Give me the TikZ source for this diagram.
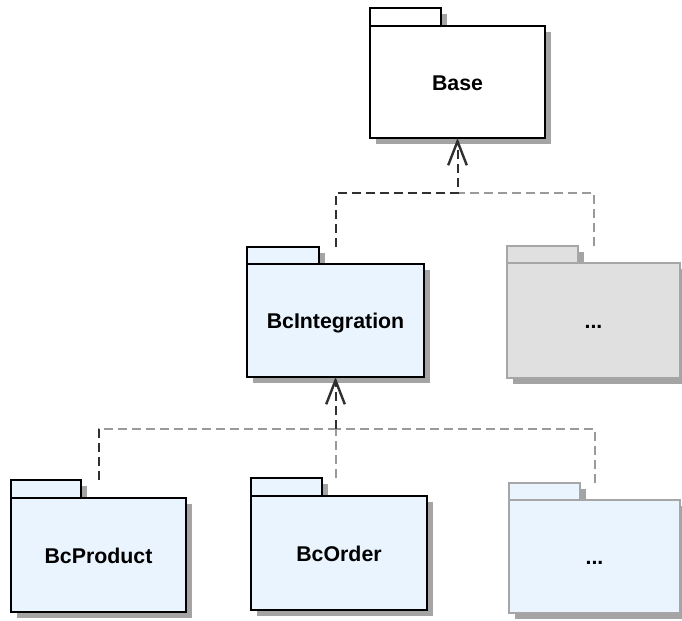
\documentclass[tikz,border=0pt]{standalone}
\usepackage{fontspec}
\setmainfont{Liberation Sans}
\usetikzlibrary{fit,shadows,arrows.meta}

\definecolor{pkgblue}{HTML}{EAF4FF}
\definecolor{pkggrey}{HTML}{E0E0E0}
\definecolor{rimgrey}{HTML}{A6A6A6}
\definecolor{linedark}{HTML}{303030}
\definecolor{linegrey}{HTML}{9A9A9A}
\definecolor{shadowgrey}{HTML}{A4A4A4}

\tikzset{
  pkgshadow/.style={drop shadow={shadow xshift=4.5pt, shadow yshift=-4.5pt,
      fill=shadowgrey, opacity=1}},
  pkgpart/.style={draw=black, line width=2.1pt, fill=pkgblue, inner sep=0pt,
      outer sep=0pt, pkgshadow},
  whitepart/.style={pkgpart, fill=white},
  greypart/.style={pkgpart, draw=rimgrey, fill=pkggrey},
  palepart/.style={pkgpart, draw=rimgrey, fill=pkgblue},
  pkgtext/.style={font=\fontsize{16}{19}\selectfont\bfseries, text=black,
      inner sep=0pt, text height=12pt, text depth=0pt},
  conn/.style={line width=1.5pt, dash pattern=on 6.75pt off 3.75pt, draw=linedark},
  connpale/.style={conn, draw=linegrey},
  genarrow/.style={-{Straight Barb[length=18pt, width=14pt, line width=1.8pt]}}
}

\begin{document}
\begin{tikzpicture}[x=0.75pt, y=-0.75pt]
  \useasboundingbox (0,0) rectangle (682,621);
  \clip (0,0) rectangle (682,621);

  % Base package
  \node[whitepart, fit={(370,8) (441,26)}] (base-tab) {};
  \node[whitepart, fit={(370,26) (545,138)}] (base) {};
  \node[pkgtext] (base-name) at (base) {Base};

  % BcIntegration package
  \node[pkgpart, fit={(247,247) (319,264)}] (bcint-tab) {};
  \node[pkgpart, fit={(247,264) (424,377)}] (bcint) {};
  \node[pkgtext] (bcint-name) at (bcint) {BcIntegration};

  % other, inactive package beside BcIntegration
  \node[greypart, fit={(507,246) (578,263)}] (misc1-tab) {};
  \node[greypart, fit={(507,263) (680,378)}] (misc1) {};
  \node[pkgtext] (misc1-name) at (misc1) {...};

  % BcProduct package
  \node[pkgpart, fit={(11,480) (81,498)}] (prod-tab) {};
  \node[pkgpart, fit={(11,498) (186,612)}] (prod) {};
  \node[pkgtext] (prod-name) at (prod) {BcProduct};

  % BcOrder package
  \node[pkgpart, fit={(251,478) (322,496)}] (order-tab) {};
  \node[pkgpart, fit={(251,496) (427,610)}] (order) {};
  \node[pkgtext] (order-name) at (order) {BcOrder};

  % further packages below BcIntegration
  \node[palepart, fit={(509,483) (580,500)}] (misc2-tab) {};
  \node[palepart, fit={(509,500) (680,613)}] (misc2) {};
  \node[pkgtext] (misc2-name) at (misc2) {...};

  % junction points of the generalisation trees
  \path (base.south) ++(0,55) coordinate (j1);
  \path (bcint.south) ++(0,52) coordinate (j2);

  % dependencies on Base
  \draw[connpale] (misc1.north |- misc1-tab.north) |- (j1);
  \draw[conn, genarrow] (bcint.north |- bcint-tab.north) |- (j1) -- (base.south);

  % dependencies on BcIntegration
  \draw[connpale] (misc2.north |- misc2-tab.north) |- (j2);
  \draw[connpale] (bcint.south |- order-tab.north) -- (j2);
  \draw[connpale] (prod.north |- prod-tab.north) |- (j2);
  \draw[conn] (prod.north |- prod-tab.north) -- (prod.north |- j2);
  \draw[conn, genarrow] (j2) -- (bcint.south);
\end{tikzpicture}
\end{document}
